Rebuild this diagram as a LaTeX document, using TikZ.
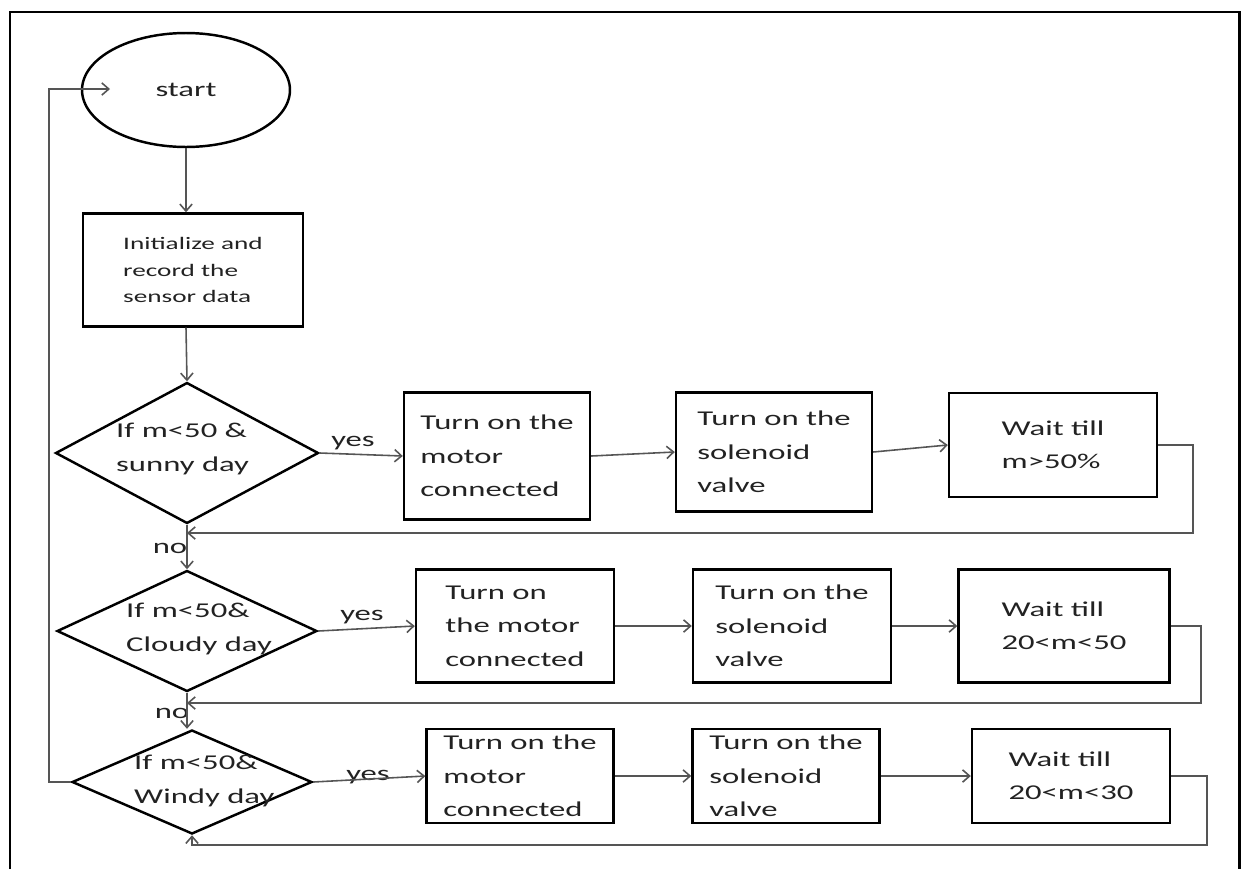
\documentclass[tikz,border=0pt]{standalone}
\usepackage{fontspec}
\setmainfont{Carlito}[FakeStretch=1.55]
\usetikzlibrary{shapes.geometric, arrows.meta}
\definecolor{inkgray}{HTML}{222222}
\definecolor{linegray}{HTML}{555555}

\begin{document}
\begin{tikzpicture}[x=0.02cm, y=-0.02cm,
		every node/.style={font=\fontsize{12}{19}\selectfont, text=inkgray},
		box/.style={draw=black, line width=1.4pt, rectangle, align=left, inner sep=1pt},
		cond/.style={draw=black, line width=1.4pt, diamond, inner sep=0pt},
		flow/.style={draw=linegray, line width=0.9pt, -{Straight Barb[length=4pt,width=7pt]}}]
		\useasboundingbox (0,0) rectangle (1246,869);
		\draw[line width=1.7pt] (10,869) |- (1239,12) -- (1239,869);
		
		\node[ellipse, draw=black, line width=1.4pt, minimum width=4.16cm, minimum height=2.28cm] (start) at (186,90) {start};
		\node[box, minimum width=4.4cm, minimum height=2.26cm, font=\fontsize{10}{15.3}\selectfont] (init) at (193,270) {Initialize and\\record the\\sensor data};
		
		\node[cond, minimum width=5.26cm, minimum height=2.82cm] (sunny) at (187,453) {};
		\node[cond, minimum width=5.2cm, minimum height=2.42cm] (cloudy) at (187,631) {};
		\node[cond, minimum width=4.8cm, minimum height=2.08cm] (windy) at (192,782) {};
		\node[anchor=west, align=left] (sunnytxt) at (110,449) {If m<50 \&\\sunny day};
		\node[anchor=west, align=left] (cloudytxt) at (120,629) {If m<50\&\\Cloudy day};
		\node[anchor=west, align=left] (windytxt) at (128,781) {If m<50\&\\Windy day};
		
		% sunny row
		\node[box, minimum width=3.72cm, minimum height=2.54cm] (b11) at (497,456) {Turn on the\\motor\\connected};
		\node[box, minimum width=3.92cm, minimum height=2.38cm] (b12) at (774,452) {Turn on the\\solenoid\\valve};
		\node[box, minimum width=4.16cm, minimum height=2.08cm] (b13) at (1053,445) {Wait till\\m>50\%};
		
		% cloudy row
		\node[box, minimum width=3.96cm, minimum height=2.26cm] (b21) at (515,626) {Turn on\\the motor\\connected};
		\node[box, minimum width=3.96cm, minimum height=2.26cm] (b22) at (792,626) {Turn on the\\solenoid\\valve};
		\node[box, minimum width=4.22cm, minimum height=2.26cm] (b23) at (1064,626) {Wait till\\20<m<50};
		
		% windy row
		\node[box, minimum width=3.74cm, minimum height=1.88cm] (b31) at (520,776) {Turn on the\\motor\\connected};
		\node[box, minimum width=3.74cm, minimum height=1.88cm] (b32) at (786,776) {Turn on the\\solenoid\\valve};
		\node[box, minimum width=3.96cm, minimum height=1.88cm] (b33) at (1071,776) {Wait till\\20<m<30};
		
		\node (yes1) at (353,443) {yes};
		\node (yes2) at (362,617) {yes};
		\node (yes3) at (368,777) {yes};
		\node (no1) at (170,548) {no};
		\node (no2) at (172,713) {no};
		
		\coordinate (into) at (110,89);
		\coordinate (back1) at (187,533);
		\coordinate (back2) at (187,703);
		\coordinate (back3) at (192,845);
		
		\draw[flow] (start.south) -- (start.south |- init.north);
		\draw[flow] (start.south |- init.south) -- (sunny.north);
		\draw[flow] (sunny.south) -- (cloudy.north);
		\draw[flow] (cloudy.south) -- (cloudy.south |- windy.north);
		
		\draw[flow] (sunny.east) -- (b11.west);
		\draw[flow] (b11.east) -- (b12.west);
		\draw[flow] (b12.east) -- (b13.west);
		\draw[flow] (cloudy.east) -- (b21.west);
		\draw[flow] (b21.east) -- (b22.west);
		\draw[flow] (b22.east) -- (b23.west);
		\draw[flow] (windy.east) -- (b31.west);
		\draw[flow] (b31.east) -- (b32.west);
		\draw[flow] (b32.east) -- (b33.west);
		
		\draw[flow] (b13.east) -- ++(35,0) |- (back1);
		\draw[flow] (b23.east) -- ++(30,0) |- (back2);
		\draw[flow] (b33.east) -- ++(36,0) |- (back3) -- (windy.south);
		\draw[flow] (windy.west) -- ++(-22,0) |- (into);
		
	\end{tikzpicture}
\end{document}
